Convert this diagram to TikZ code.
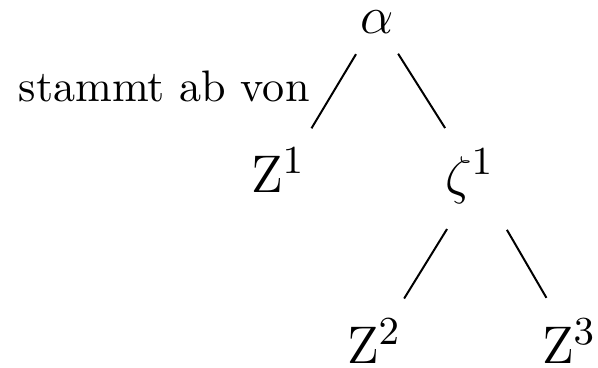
\documentclass[tikz,border=0pt]{standalone}
\begin{document}
\begin{tikzpicture}[x=0.2267pt,y=-0.2267pt,
  lab/.style={inner sep=0pt,outer sep=0pt,font=\fontsize{12.5}{15}\selectfont,anchor=base west},
  txt/.style={inner sep=0pt,outer sep=0pt,font=\fontsize{10}{12}\selectfont,anchor=base east},
  upper/.style={draw,line width=0.45pt,shorten <=9.1pt,shorten >=13.8pt},
  lower/.style={draw,line width=0.45pt,shorten <=13.2pt,shorten >=12.5pt}]
\useasboundingbox (0,0) rectangle (598,368);
\node[lab] (a) at (360,33.3) {$\alpha$};
\node[lab] (z1) at (251,193) {$\mathrm{Z}^1$};
\node[lab] (c1) at (445,193.5) {$\zeta^1$};
\node[lab] (z2) at (347,364) {$\mathrm{Z}^2$};
\node[lab] (z3) at (542,364) {$\mathrm{Z}^3$};
\node[txt] (lbl) at (309.5,101.7) {stammt ab von};
\draw[upper] ([shift={(0,-4)}]a.mid) -- ([shift={(2,-3)}]z1.mid);
\draw[upper] ([shift={(0,-4)}]a.mid) -- ([shift={(8,-4.5)}]c1.mid);
\draw[lower] ([shift={(8,-4.5)}]c1.mid) -- ([shift={(1,-9)}]z2.mid);
\draw[lower] ([shift={(8,-4.5)}]c1.mid) -- ([shift={(5,-9)}]z3.mid);
\end{tikzpicture}
\end{document}
